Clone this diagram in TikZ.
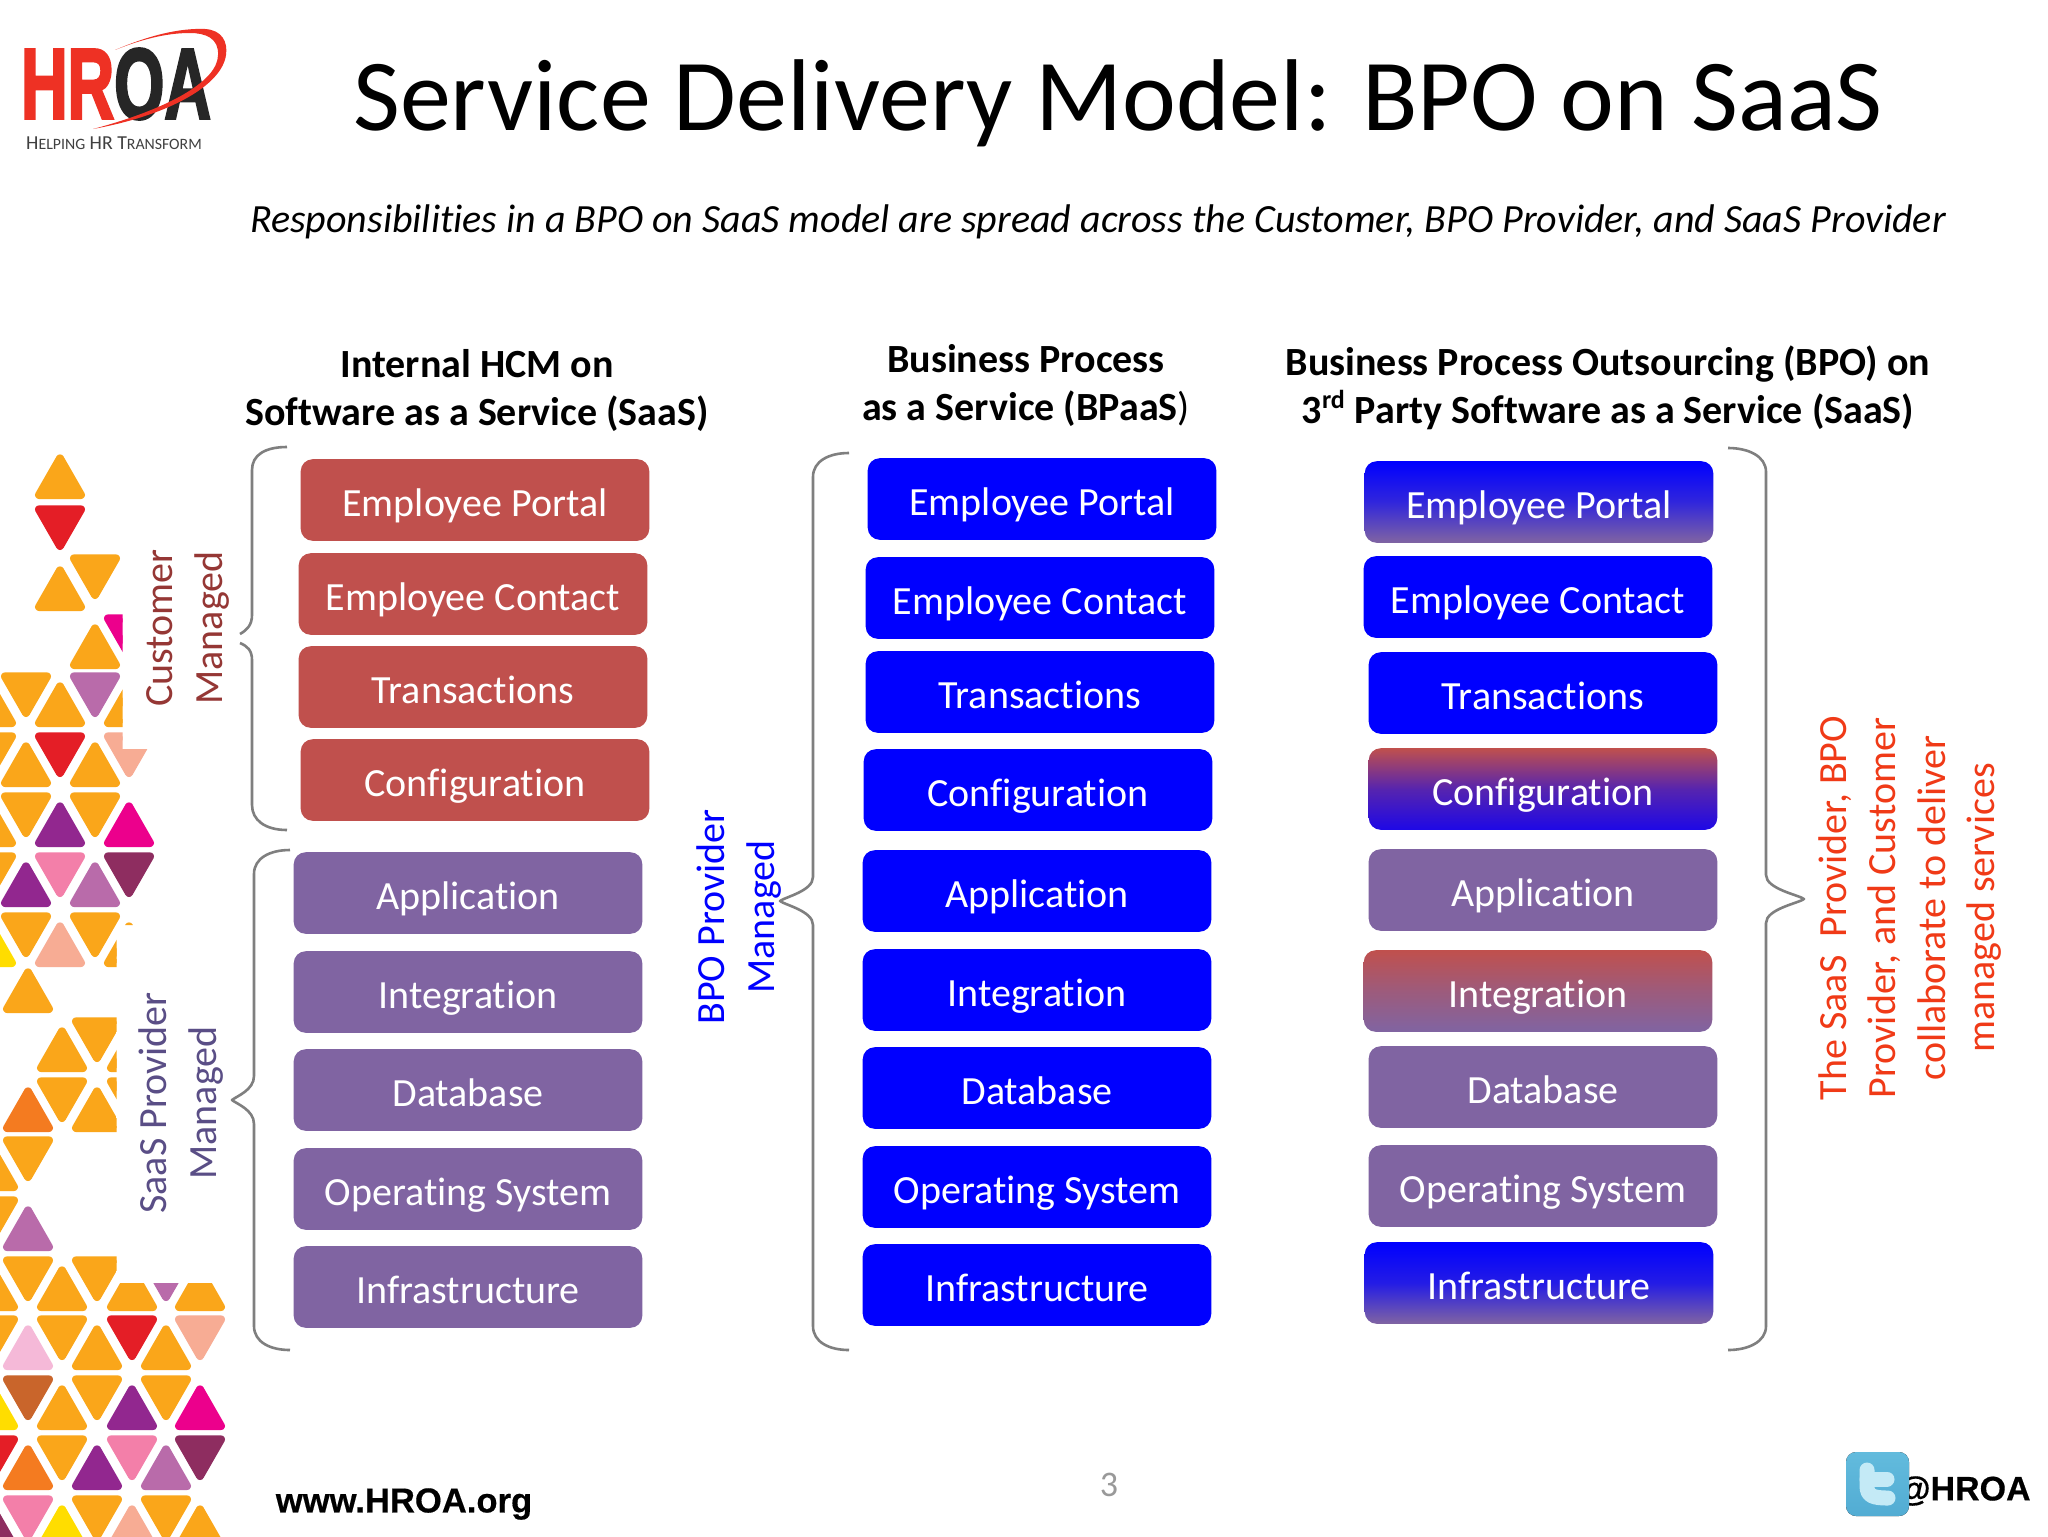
\documentclass[tikz,border=0pt]{standalone}
\usepackage{fontspec}
\setmainfont[Ligatures=NoCommon]{Carlito}
\newfontfamily\arialf{Liberation Sans}
\usetikzlibrary{shadings}
\definecolor{boxred}{HTML}{C0504D}
\definecolor{boxpur}{HTML}{8064A2}
\definecolor{boxblu}{HTML}{0000FF}
\definecolor{custtxt}{HTML}{953735}
\definecolor{saastxt}{HTML}{5A4E86}
\definecolor{redtxt}{HTML}{F03A17}
\definecolor{brgray}{HTML}{7F7F7F}
\definecolor{tO}{HTML}{FAA61A}
\definecolor{tR}{HTML}{E41E26}
\definecolor{tM}{HTML}{B96BAA}
\definecolor{tP}{HTML}{EC008C}
\definecolor{tV}{HTML}{92278F}
\definecolor{tK}{HTML}{F37FA9}
\definecolor{tL}{HTML}{8E2D60}
\definecolor{tS}{HTML}{F7AC94}
\definecolor{tY}{HTML}{FFDD00}
\definecolor{tD}{HTML}{F47B20}
\definecolor{tB}{HTML}{C9652B}
\definecolor{tI}{HTML}{F5B9D8}
\definecolor{logored}{HTML}{EE3124}
\definecolor{cfgbot}{HTML}{1E08E6}
\definecolor{twtop}{HTML}{62BBDD}
\definecolor{twbot}{HTML}{52ACD3}
\definecolor{twt}{HTML}{C4EAF6}
\tikzset{
  boxbase/.style={rounded corners=6pt,minimum width=174.3pt,minimum height=40.8pt,inner sep=0pt,text=white,text height=16.8pt,text depth=0.2pt,font=\fontsize{20}{22}\selectfont},
  redbox/.style={boxbase,fill=boxred},
  purbox/.style={boxbase,fill=boxpur},
  blubox/.style={boxbase,fill=boxblu},
  bptop/.style={boxbase,top color=boxblu,bottom color=boxpur,middle color=boxblu!62!boxpur},
  cfgbox/.style={boxbase,top color=boxred,bottom color=cfgbot,middle color=boxblu!55!boxred},
  intbox/.style={boxbase,top color=boxred,bottom color=boxpur,middle color=boxpur!55!boxred},
  infbox/.style={boxbase,top color=boxblu,bottom color=boxpur,middle color=boxblu!72!boxpur},
  brc/.style={draw=brgray,line width=1.3pt,line join=round},
  vlabel/.style={rotate=90,align=center,font=\fontsize{20}{24.7}\selectfont},
  head/.style={align=center,font=\fontsize{20}{24}\selectfont\bfseries},
  logotxt/.style={inner sep=0pt,transform shape,xscale=0.645,font=\arialf\fontsize{50}{50}\selectfont\bfseries\addfontfeature{FakeBold=3}},
}
\newcommand{\bx}[5]{\node[#4] (#1) at (#2+174,#3+41) {#5};}
\newcommand{\tu}[3]{\path[fill=#3,draw=#3,line width=4pt,line join=round] (#1,#2-4) -- (#1+21,#2-4) -- (#1,#2-40.6) -- (#1-21,#2-4) -- cycle;}
\newcommand{\td}[3]{\path[fill=#3,draw=#3,line width=4pt,line join=round] (#1-21,#2-50.6) -- (#1+21,#2-50.6) -- (#1,#2-14) -- cycle;}
\newcommand{\lbrc}[6]{\draw[brc] (#1,#4) .. controls (#1-20,#4) and (#2,#4+8) .. (#2,#4+24) -- (#2,#5-24) .. controls (#2,#5-10) and (#3+5,#5-4) .. (#3,#5) .. controls (#3+5,#5+4) and (#2,#5+10) .. (#2,#5+24) -- (#2,#6-24) .. controls (#2,#6-8) and (#1-20,#6) .. (#1,#6);}
\begin{document}
\begin{tikzpicture}[x=0.5pt,y=-0.5pt]
\useasboundingbox (0,0) rectangle (2048,1536);
\fill[white] (0,0) rectangle (2048,1536);
% triangle pattern
\begin{scope}
\clip (-1,0) -- (122.5,0) -- (122.5,749) -- (160,749) -- (160,925) -- (116.5,925) -- (116.5,1283) -- (230,1283) -- (230,1540) -- (-1,1540) -- cycle;
\tu{60}{499}{tO}
\td{60}{560}{tR}
\tu{60}{611}{tO} \td{95}{609}{tO}
\tu{95}{669}{tO} \td{129}{669}{tP}
\tu{-9}{727}{tO} \tu{60}{727}{tO} \tu{129}{727}{tO} \td{26}{727}{tO} \td{95}{727}{tM}
\tu{26}{787}{tO} \tu{95}{787}{tO} \td{-9}{787}{tO} \td{60}{787}{tR} \td{129}{787}{tS}
\tu{-9}{847}{tO} \tu{60}{847}{tV} \tu{129}{847}{tP} \td{26}{847}{tO} \td{95}{847}{tO}
\tu{26}{907}{tV} \tu{95}{907}{tM} \td{-9}{907}{tO} \td{60}{907}{tK} \td{129}{907}{tL}
\tu{-9}{967}{tY} \tu{60}{967}{tS} \tu{129}{967}{tO} \td{26}{967}{tO} \td{95}{967}{tO}
\tu{28}{1013}{tO}
\tu{62}{1072}{tO} \tu{132}{1072}{tO} \td{97}{1072}{tO}
\tu{28}{1132}{tD} \tu{97}{1132}{tO} \td{62}{1132}{tO} \td{132}{1132}{tO}
\tu{-7}{1191}{tO} \td{28}{1191}{tO}
\tu{28}{1251}{tM} \td{-7}{1251}{tO}
\tu{-7}{1311}{tO} \tu{62}{1311}{tO} \tu{132}{1311}{tO} \tu{200}{1311}{tO} \td{28}{1311}{tO} \td{97}{1311}{tO} \td{166}{1311}{tM}
\tu{28}{1370}{tI} \tu{97}{1370}{tO} \tu{166}{1370}{tO} \td{-7}{1370}{tO} \td{62}{1370}{tO} \td{132}{1370}{tR} \td{200}{1370}{tS}
\tu{-7}{1430}{tY} \tu{62}{1430}{tO} \tu{132}{1430}{tV} \tu{200}{1430}{tP} \td{28}{1430}{tB} \td{97}{1430}{tO} \td{166}{1430}{tO}
\tu{28}{1490}{tD} \tu{97}{1490}{tV} \tu{166}{1490}{tM} \td{-7}{1490}{tR} \td{62}{1490}{tO} \td{132}{1490}{tK} \td{200}{1490}{tL}
\tu{-7}{1550}{tL} \tu{62}{1550}{tY} \tu{132}{1550}{tS} \tu{200}{1550}{tO} \td{28}{1550}{tK} \td{97}{1550}{tO} \td{166}{1550}{tO}
\end{scope}
% logo
\node[logotxt] (logo) at (116,84) {\textcolor{logored}{HR}\textcolor{black!85}{OA}};
\fill[logored] (115,50) .. controls (150,35) and (180,28) .. (205,29) .. controls (222,30) and (228,42) .. (226,55) .. controls (222,85) and (170,115) .. (93,129) .. controls (165,110) and (218,82) .. (218,55) .. controls (219,38) and (205,33) .. (190,33) .. controls (165,33) and (140,40) .. (115,50) -- cycle;
\node[inner sep=0pt,text=black!75,font=\fontsize{9.9}{11}\selectfont] (logotag) at (114,143) {H{\fontsize{7.9}{9}\selectfont ELPING} HR T{\fontsize{7.9}{9}\selectfont RANSFORM}};
% title
\node[inner sep=0pt,font=\fontsize{51}{56}\selectfont] (title) at (1118,103) {Service Delivery Model: BPO on SaaS};
\node[inner sep=0pt,font=\fontsize{20}{22}\selectfont\itshape] (subtitle) at (1098,222) {Responsibilities in a BPO on SaaS model are spread across the Customer, BPO Provider, and SaaS Provider};
% headers
\node[head] (h1) at (477,390) {Internal HCM on\\Software as a Service (SaaS)};
\node[head] (h2) at (1026,385) {Business Process\\as a Service (BPaaS{\mdseries )}};
\node[head] (h3) at (1608,388) {Business Process Outsourcing (BPO) on\\3\textsuperscript{\fontsize{13}{13}\selectfont rd} Party Software as a Service (SaaS)};
% column 1
\bx{a1}{301}{459}{redbox}{Employee Portal}
\bx{a2}{299}{553}{redbox}{Employee Contact}
\bx{a3}{299}{646}{redbox}{Transactions}
\bx{a4}{301}{739}{redbox}{Configuration}
\bx{a5}{294}{852}{purbox}{Application}
\bx{a6}{294}{951}{purbox}{Integration}
\bx{a7}{294}{1049}{purbox}{Database}
\bx{a8}{294}{1148}{purbox}{Operating System}
\bx{a9}{294}{1246}{purbox}{Infrastructure}
% column 2
\bx{b1}{868}{458}{blubox}{Employee Portal}
\bx{b2}{866}{557}{blubox}{Employee Contact}
\bx{b3}{866}{651}{blubox}{Transactions}
\bx{b4}{864}{749}{blubox}{Configuration}
\bx{b5}{863}{850}{blubox}{Application}
\bx{b6}{863}{949}{blubox}{Integration}
\bx{b7}{863}{1047}{blubox}{Database}
\bx{b8}{863}{1146}{blubox}{Operating System}
\bx{b9}{863}{1244}{blubox}{Infrastructure}
% column 3
\bx{c1}{1365}{461}{bptop}{Employee Portal}
\bx{c2}{1364}{556}{blubox}{Employee Contact}
\bx{c3}{1369}{652}{blubox}{Transactions}
\bx{c4}{1369}{748}{cfgbox}{Configuration}
\bx{c5}{1369}{849}{purbox}{Application}
\bx{c6}{1364}{950}{intbox}{Integration}
\bx{c7}{1369}{1046}{purbox}{Database}
\bx{c8}{1369}{1145}{purbox}{Operating System}
\bx{c9}{1365}{1242}{infbox}{Infrastructure}
% braces
\draw[brc] (287,447) .. controls (265,447) and (252,455) .. (252,470) -- (252,615) .. controls (252,625) and (247,630) .. (240,634);
\draw[brc] (240,643) .. controls (247,646) and (252,650) .. (252,660) -- (252,805) .. controls (252,820) and (265,830) .. (287,830);
\lbrc{290}{254}{232}{850}{1100}{1350}
\lbrc{849}{813}{780}{453}{901}{1350}
\draw[brc] (1728,448) .. controls (1748,448) and (1766,456) .. (1766,472) -- (1766,875) .. controls (1766,889) and (1799,895) .. (1804,899) .. controls (1799,903) and (1766,909) .. (1766,923) -- (1766,1326) .. controls (1766,1342) and (1748,1350) .. (1728,1350);
% side labels
\node[vlabel,text=custtxt] (lcust) at (188,628) {Customer\\Managed};
\node[vlabel,text=saastxt] (lsaas) at (181,1103) {SaaS Provider\\Managed};
\node[vlabel,text=boxblu] (lbpo) at (739,917) {BPO Provider\\Managed};
\node[vlabel,text=redtxt] (lred) at (1910,908) {The SaaS\ \ Provider, BPO\\Provider, and Customer\\collaborate to deliver\\managed services};
% footer
\node[inner sep=0pt,font=\arialf\fontsize{17.3}{18}\selectfont\bfseries\addfontfeature{FakeBold=0.4}] (web) at (404,1504) {www.HROA.org};
\node[inner sep=0pt,text=black!40,font=\fontsize{18}{20}\selectfont] (pageno) at (1109,1485) {3};
\node[inner sep=0pt,font=\arialf\fontsize{17}{18}\selectfont\bfseries\addfontfeature{FakeBold=0.4}] (handle) at (1964,1491) {@HROA};
\fill[top color=twtop,bottom color=twbot,rounded corners=5pt] (1846,1452) rectangle (1909,1516);
\draw[twt,line width=7.5pt,line cap=round,line join=round] (1867,1470) -- (1867,1486) .. controls (1867,1496) and (1873,1498) .. (1888,1498);
\draw[twt,line width=7.5pt,line cap=round] (1867,1479) -- (1887,1479);
\end{tikzpicture}
\end{document}
